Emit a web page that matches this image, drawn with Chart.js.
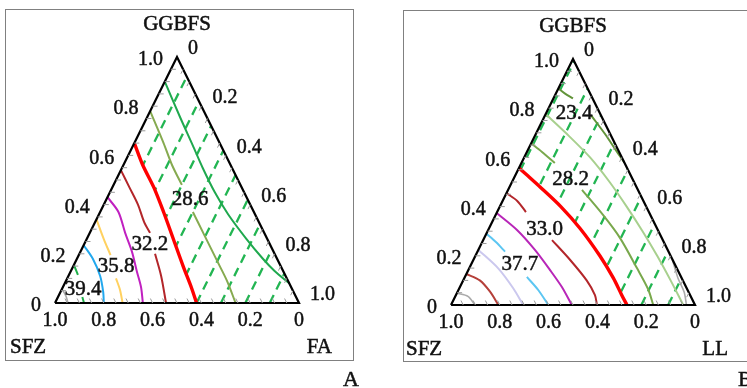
<!DOCTYPE html>
<html>
<head>
<meta charset="utf-8">
<script src="https://cdn.jsdelivr.net/npm/chart.js@4.4.1/dist/chart.umd.min.js"></script>
<style>
  html, body { margin: 0; padding: 0; background: #fff; }
  #wrap { position: relative; width: 747px; height: 388px; overflow: hidden; }
  canvas { position: absolute; }
</style>
</head>
<body>
<div id="wrap">
  <canvas id="panelA" width="396" height="388" style="left:0;top:0"></canvas>
  <canvas id="panelB" width="351" height="386" style="left:396px;top:2px"></canvas>
</div>
<script>
// Ternary axes: every point is [GGBFS, second component]; the third (SFZ) = 1 - GGBFS - second.
const axisTicks = [0, 0.2, 0.4, 0.6, 0.8, 1.0];
const axisTickText = ['0', '0.2', '0.4', '0.6', '0.8', '1.0'];
const minorTicks = [0.05, 0.1, 0.15, 0.2, 0.25, 0.3, 0.35, 0.4, 0.45, 0.5,
                    0.55, 0.6, 0.65, 0.7, 0.75, 0.8, 0.85, 0.9, 0.95];

// Panel A: GGBFS - SFZ - FA   (points are [GGBFS, FA]; null = gap for a contour label)
const aLine1 = [[0.90,0],[0.75,0.14],[0.64,0.245],[0.55,0.33],[0.45,0.43],[0.36,0.53],[0.26,0.655],[0.18,0.762],[0.13,0.835],[0.08,0.92]];
const aLine2 = [[0.78,0],[0.65,0.12],[0.56,0.20],[0.48,0.28],null,[0.37,0.38],[0.28,0.47],[0.17,0.58],[0.09,0.66],[0,0.74]];
const aRed   = [[0.65,0],[0.56,0.08],[0.47,0.17],[0.37,0.26],[0.26,0.355],[0.15,0.45],[0.06,0.53],[0,0.58]];
const aLine4 = [[0.54,0],[0.47,0.07],[0.40,0.14],[0.33,0.20],[0.285,0.247],null,[0.20,0.31],[0.11,0.38],[0,0.455]];
const aLine5 = [[0.43,0],[0.37,0.075],[0.285,0.145],[0.21,0.21],[0.13,0.27],[0.065,0.32],[0,0.36]];
const aLine6 = [[0.34,0],[0.26,0.07],[0.195,0.13],null,[0.10,0.20],[0.053,0.24],[0,0.277]];
const aLine7 = [[0.235,0],[0.18,0.065],[0.11,0.13],[0.045,0.175],[0,0.20]];
const aLine8 = [[0.155,0],[0.114,0.037],null,[0.024,0.10],[0,0.119]];
const aLine9 = [[0.057,0],[0.028,0.031],[0,0.053]];
const aLabelText = ['28.6', '32.2', '35.8', '39.4'];
const aLabelAt   = [[0.419,0.344],[0.236,0.271],[0.15,0.175],[0.053,0.089]];
const aHatch     = [0.08, 0.18, 0.28, 0.38, 0.48, 0.58, 0.68, 0.78, 0.88];

// Panel B: GGBFS - SFZ - LL   (points are [GGBFS, LL])
const bLine1  = [[0.88,0],[0.86,0.036],[0.84,0.08],null,[0.77,0.19],[0.69,0.29],[0.63,0.36],[0.58,0.42]];
const bLine2  = [[0.776,0],[0.70,0.12],[0.60,0.27],[0.50,0.40],[0.40,0.52],[0.30,0.635],[0.20,0.745],[0.10,0.85],[0,0.952]];
const bLine3  = [[0.657,0],[0.622,0.062],[0.577,0.137],null,[0.468,0.303],[0.366,0.44],[0.272,0.557],[0.15,0.687],[0.065,0.775],[0,0.829]];
const bRed    = [[0.557,0],[0.524,0.054],[0.48,0.125],[0.40,0.25],[0.31,0.375],[0.20,0.51],[0.11,0.61],[0.04,0.68],[0,0.721]];
const bLine5  = [[0.455,0],[0.423,0.06],[0.378,0.118],null,[0.264,0.282],[0.183,0.397],[0.10,0.506],[0.04,0.57],[0,0.598]];
const bLine6  = [[0.374,0],[0.305,0.118],[0.224,0.232],[0.142,0.335],[0.073,0.418],[0,0.495]];
const bLine7  = [[0.29,0],[0.256,0.056],[0.217,0.113],null,[0.114,0.254],[0.061,0.327],[0,0.399]];
const bLine8  = [[0.224,0],[0.149,0.119],[0.068,0.221],[0,0.296]];
const bLine9  = [[0.126,0],[0.10,0.068],[0.054,0.133],[0,0.194]];
const bLine10 = [[0.048,0],[0.035,0.052],[0,0.098]];
const bLine11 = [[0.183,0.816],[0.11,0.875],[0.053,0.929],[0,0.965]];
const bLabelText = ['23.4', '28.2', '33.0', '37.7'];
const bLabelAt   = [[0.777,0.116],[0.51,0.235],[0.307,0.23],[0.165,0.20]];
const bHatch     = [0.01, 0.12, 0.23, 0.34, 0.45, 0.56, 0.67, 0.78, 0.89];

const SERIF = '"Liberation Serif", "Times New Roman", serif';

const panels = [
  {
    canvas: 'panelA', letter: 'A', letterPos: [351, 380], letterAlign: 'center',
    frame: [5.5, 9.5, 348, 351], names: ['GGBFS', 'SFZ', 'FA'],
    red: aRed, hatch: aHatch, labelText: aLabelText, labelAt: aLabelAt,
    lines: [
      [aLine1, '#1fa84e', 2], [aLine2, '#86aa50', 2], [aRed, '#ff0000', 3.4],
      [aLine4, '#b3262a', 2], [aLine5, '#c020c0', 2], [aLine6, '#ffd160', 2],
      [aLine7, '#22a8ee', 2], [aLine8, '#1fb04a', 2], [aLine9, '#aaaaaa', 1.6]
    ]
  },
  {
    canvas: 'panelB', letter: 'B', letterPos: [342, 378], letterAlign: 'left',
    frame: [7.5, 8.5, 400, 351], names: ['GGBFS', 'SFZ', 'LL'],
    red: bRed, hatch: bHatch, labelText: bLabelText, labelAt: bLabelAt,
    lines: [
      [bLine1, '#62943a', 2], [bLine2, '#a8d08e', 2], [bLine3, '#79a84c', 2],
      [bRed, '#ff0000', 3.4], [bLine5, '#b3262a', 2], [bLine6, '#b826b8', 2],
      [bLine7, '#5cc6f2', 2], [bLine8, '#cbc8ee', 2], [bLine9, '#b5403a', 2],
      [bLine10, '#aaaaaa', 1.6], [bLine11, '#aaaaaa', 1.6]
    ]
  }
];

// [GGBFS, other] -> plot coordinates (x along the base, y = GGBFS height)
function toXY(p) { return p ? { x: p[1] + p[0] / 2, y: p[0] } : { x: null, y: null }; }

function pix(chart, g, f) {
  return { x: chart.scales.x.getPixelForValue(f + g / 2), y: chart.scales.y.getPixelForValue(g) };
}

function text(ctx, s, x, y) {
  ctx.fillText(s, x, y);
  ctx.strokeText(s, x, y);
}

function ternaryPlugin(panel) {
  return {
    id: 'ternaryDecor',
    beforeDraw(chart) {
      const ctx = chart.ctx;
      ctx.save();
      ctx.strokeStyle = '#808080';
      ctx.lineWidth = 1;
      ctx.strokeRect(...panel.frame);
      ctx.restore();
    },
    beforeDatasetsDraw(chart) {
      // dashed hatching of the region beyond the red contour
      const ctx = chart.ctx;
      ctx.save();
      ctx.beginPath();
      panel.red.forEach((p, i) => {
        const q = pix(chart, p[0], p[1]);
        if (i === 0) ctx.moveTo(q.x, q.y); else ctx.lineTo(q.x, q.y);
      });
      const R = pix(chart, 0, 1), T = pix(chart, 1, 0);
      ctx.lineTo(R.x, R.y);
      ctx.lineTo(T.x, T.y);
      ctx.closePath();
      ctx.clip();
      ctx.strokeStyle = '#22b552';
      ctx.lineWidth = 2.3;
      ctx.setLineDash([9, 6]);
      panel.hatch.forEach(f => {
        const a = pix(chart, 0, f), b = pix(chart, 1 - f, f);
        ctx.beginPath();
        ctx.moveTo(a.x, a.y);
        ctx.lineTo(b.x, b.y);
        ctx.stroke();
      });
      ctx.restore();
    },
    afterDatasetsDraw(chart) {
      const ctx = chart.ctx;
      const L = pix(chart, 0, 0), R = pix(chart, 0, 1), T = pix(chart, 1, 0);
      const unit = (a, b) => { const dx = b.x - a.x, dy = b.y - a.y, d = Math.hypot(dx, dy); return { x: dx / d, y: dy / d }; };
      const dLeft = { x: 1, y: 0 }, dBottom = unit(R, T), dRight = unit(T, L);
      const tl = 5;
      ctx.save();
      ctx.strokeStyle = '#9a9a9a';
      ctx.lineWidth = 1;
      ctx.beginPath();
      minorTicks.forEach(t => {
        let p = pix(chart, t, 0);
        ctx.moveTo(p.x, p.y); ctx.lineTo(p.x + dLeft.x * tl, p.y + dLeft.y * tl);
        p = pix(chart, 0, 1 - t);
        ctx.moveTo(p.x, p.y); ctx.lineTo(p.x + dBottom.x * tl, p.y + dBottom.y * tl);
        p = pix(chart, 1 - t, t);
        ctx.moveTo(p.x, p.y); ctx.lineTo(p.x + dRight.x * tl, p.y + dRight.y * tl);
      });
      ctx.stroke();

      ctx.fillStyle = '#111';
      ctx.strokeStyle = '#111';
      ctx.lineWidth = 0.5;
      ctx.textBaseline = 'middle';
      ctx.font = '20px ' + SERIF;
      axisTicks.forEach((v, i) => {
        const txt = axisTickText[i];
        let p = pix(chart, v, 0);            // GGBFS along the left edge
        ctx.textAlign = 'right';
        text(ctx, txt, p.x - 14, p.y + 3);
        p = pix(chart, 1 - v, v);            // right edge component
        ctx.textAlign = 'left';
        text(ctx, txt, p.x + 11, p.y - 8);
        p = pix(chart, 0, 1 - v);            // SFZ along the base
        ctx.textAlign = 'center';
        text(ctx, txt, p.x, p.y + 18);
      });

      ctx.font = '21px ' + SERIF;
      ctx.textAlign = 'center';
      panel.labelText.forEach((txt, i) => {
        const p = pix(chart, panel.labelAt[i][0], panel.labelAt[i][1]);
        text(ctx, txt, p.x, p.y);
      });

      text(ctx, panel.names[0], T.x, T.y - 33);
      ctx.textAlign = 'left';
      text(ctx, panel.names[1], L.x - 45, L.y + 44.5);
      ctx.textAlign = 'right';
      text(ctx, panel.names[2], R.x + 33, R.y + 44.5);

      ctx.font = '22px ' + SERIF;
      ctx.textAlign = panel.letterAlign;
      text(ctx, panel.letter, panel.letterPos[0], panel.letterPos[1]);
      ctx.restore();
    }
  };
}

const charts = panels.map(panel => {
  const canvas = document.getElementById(panel.canvas);
  const datasets = [{
    data: [[0, 0], [0, 1], [1, 0], [0, 0]].map(toXY),
    showLine: true, borderColor: '#000', borderWidth: 2.2, pointRadius: 0,
    tension: 0, clip: false, borderJoinStyle: 'miter'
  }];
  panel.lines.forEach(([pts, color, width]) => {
    datasets.push({
      data: pts.map(toXY), showLine: true, spanGaps: false,
      borderColor: color, borderWidth: width, pointRadius: 0,
      tension: 0.3, clip: false, borderCapStyle: 'butt'
    });
  });
  return new Chart(canvas, {
    type: 'scatter',
    data: { datasets },
    options: {
      responsive: false,
      animation: false,
      events: [],
      layout: { padding: { left: 55, top: 57, right: canvas.width - 299, bottom: canvas.height - 303 } },
      scales: {
        x: { type: 'linear', min: 0, max: 1, display: false },
        y: { type: 'linear', min: 0, max: 1, display: false }
      },
      plugins: { legend: { display: false }, tooltip: { enabled: false } }
    },
    plugins: [ternaryPlugin(panel)]
  });
});

if (document.fonts && document.fonts.load) {
  document.fonts.load('20px "Liberation Serif"').then(() => charts.forEach(c => c.draw()));
}
</script>
</body>
</html>
